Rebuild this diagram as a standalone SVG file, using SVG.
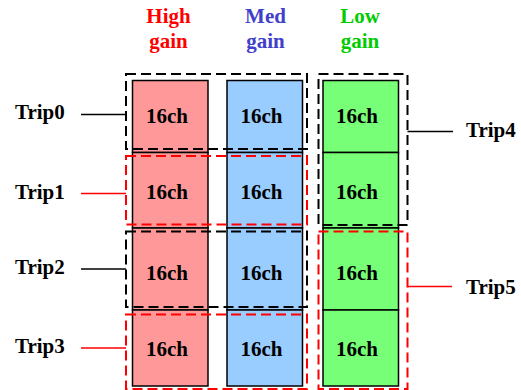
<svg xmlns="http://www.w3.org/2000/svg" width="521" height="390" viewBox="0 0 521 390">
<style>
text{font-family:"Liberation Serif","Times New Roman",serif;font-weight:bold;font-size:21px}
.hd{text-anchor:middle}
.ch{text-anchor:middle;fill:#000}
.lb{fill:#000}
.cell{stroke:#000;stroke-width:1.5}
.hi{fill:#FF9999}
.md{fill:#99CCFF}
.lo{fill:#77FF77}
.bk{fill:none;stroke:#000;stroke-width:2;stroke-dasharray:10 5}
.rd{fill:none;stroke:#FF0000;stroke-width:2;stroke-dasharray:10 5}
.cb{stroke:#000;stroke-width:1.5}
.cr{stroke:#FF0000;stroke-width:1.5}
</style>
<rect width="521" height="390" fill="#fff"/>
<g id="headers">
<text class="hd" x="168.5" y="23" fill="#FF0000">High</text>
<text class="hd" x="168.5" y="48" fill="#FF0000">gain</text>
<text class="hd" x="265.5" y="23" fill="#4040CC">Med</text>
<text class="hd" x="265.5" y="48" fill="#4040CC">gain</text>
<text class="hd" x="360" y="23" fill="#00CC00">Low</text>
<text class="hd" x="360" y="48" fill="#00CC00">gain</text>
</g>
<g id="cell-h0"><rect class="cell hi" x="132.5" y="80.5" width="75.5" height="72"/><text class="ch" x="167" y="123">16ch</text></g>
<g id="cell-h1"><rect class="cell hi" x="132.5" y="152.5" width="75.5" height="75.5"/><text class="ch" x="167" y="199">16ch</text></g>
<g id="cell-h2"><rect class="cell hi" x="132.5" y="228" width="75.5" height="82"/><text class="ch" x="167" y="280">16ch</text></g>
<g id="cell-h3"><rect class="cell hi" x="132.5" y="310" width="75.5" height="76"/><text class="ch" x="167" y="356">16ch</text></g>
<g id="cell-m0"><rect class="cell md" x="227" y="80.5" width="75.5" height="72"/><text class="ch" x="261.5" y="123">16ch</text></g>
<g id="cell-m1"><rect class="cell md" x="227" y="152.5" width="75.5" height="75.5"/><text class="ch" x="261.5" y="199">16ch</text></g>
<g id="cell-m2"><rect class="cell md" x="227" y="228" width="75.5" height="82"/><text class="ch" x="261.5" y="280">16ch</text></g>
<g id="cell-m3"><rect class="cell md" x="227" y="310" width="75.5" height="76"/><text class="ch" x="261.5" y="356">16ch</text></g>
<g id="cell-l0"><rect class="cell lo" x="323" y="80.5" width="75.5" height="72"/><text class="ch" x="357" y="123">16ch</text></g>
<g id="cell-l1"><rect class="cell lo" x="323" y="152.5" width="75.5" height="75.5"/><text class="ch" x="357" y="199">16ch</text></g>
<g id="cell-l2"><rect class="cell lo" x="323" y="228" width="75.5" height="82"/><text class="ch" x="357" y="280">16ch</text></g>
<g id="cell-l3"><rect class="cell lo" x="323" y="310" width="75.5" height="76"/><text class="ch" x="357" y="356">16ch</text></g>
<g id="trip0"><rect class="bk" x="126" y="74" width="181" height="75"/><text class="lb" x="15" y="119">Trip0</text></g>
<g id="trip1"><rect class="rd" x="126" y="156" width="181" height="68.5"/><text class="lb" x="15" y="199">Trip1</text></g>
<g id="trip2"><rect class="bk" x="126" y="231.5" width="181" height="75.5"/><text class="lb" x="15" y="274">Trip2</text></g>
<g id="trip3"><rect class="rd" x="126" y="314.5" width="181" height="74.5"/><text class="lb" x="15" y="353">Trip3</text></g>
<g id="trip4"><rect class="bk" x="318.5" y="74" width="89" height="151"/><text class="lb" x="466" y="137">Trip4</text></g>
<g id="trip5"><rect class="rd" x="318.5" y="231.5" width="89" height="157.5"/><text class="lb" x="466" y="294">Trip5</text></g>
<g id="connectors">
<line class="cb" x1="81" y1="114.5" x2="126" y2="114.5"/>
<line class="cr" x1="81" y1="193.5" x2="126" y2="193.5"/>
<line class="cb" x1="81" y1="269" x2="126" y2="269"/>
<line class="cr" x1="81" y1="348" x2="126" y2="348"/>
<line class="cb" x1="407.5" y1="131.5" x2="453" y2="131.5"/>
<line class="cr" x1="407.5" y1="286.5" x2="452" y2="286.5"/>
</g>
</svg>
